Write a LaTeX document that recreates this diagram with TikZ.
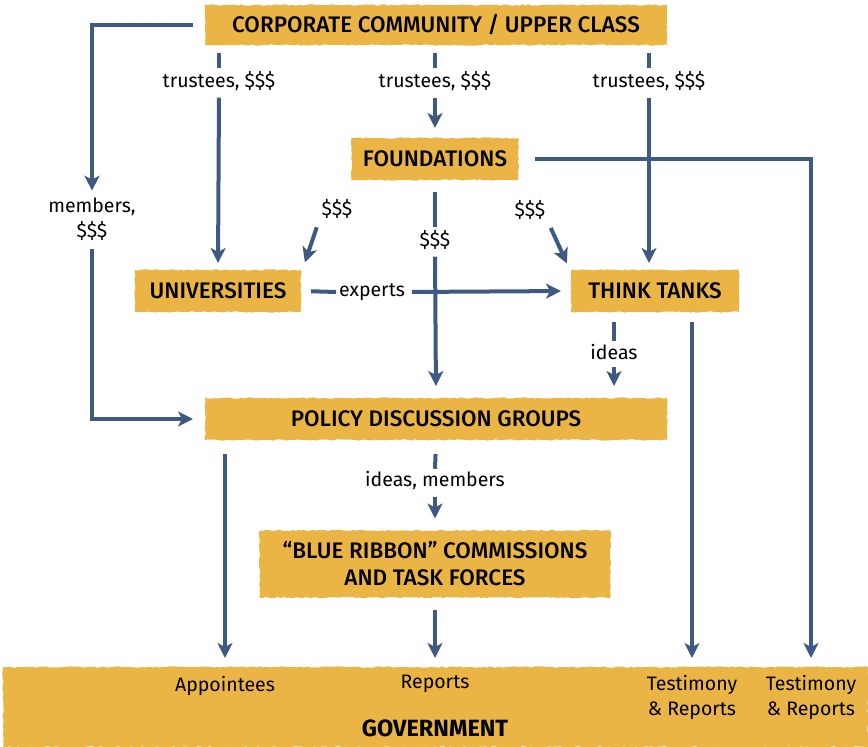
\documentclass[tikz,border=0pt]{standalone}
\usepackage{fontspec}
\setmainfont{Fira Sans}
\newfontfamily\boxfont{Fira Sans Medium}
\usetikzlibrary{arrows.meta,decorations.pathmorphing}
\definecolor{boxgold}{HTML}{EAB544}
\definecolor{linkblue}{HTML}{3F5A82}

\begin{document}
\begin{tikzpicture}[x=1pt, y=-1pt, line width=4pt,
    box/.style = {fill=boxgold, inner sep=0pt, align=center, font=\boxfont\fontsize{22.5}{27}\selectfont,
        decorate, decoration={random steps, segment length=3pt, amplitude=0.7pt}},
    lbl/.style = {inner sep=1pt, align=center, font=\fontsize{19.5}{25}\selectfont},
    seg/.style = {draw=linkblue},
    link/.style = {draw=linkblue, -{Stealth[length=15pt, width=15pt, inset=4pt]}}]
    \useasboundingbox (0,0) rectangle (868,747);
    % boxes
    \node[box, minimum width=462pt, minimum height=40pt] (corp) at (436,25) {CORPORATE COMMUNITY / UPPER CLASS};
    \node[box, minimum width=167pt, minimum height=42pt] (found) at (435,159) {FOUNDATIONS};
    \node[box, minimum width=166pt, minimum height=42pt] (univ) at (218,291) {UNIVERSITIES};
    \node[box, minimum width=168pt, minimum height=42pt] (think) at (655,291) {THINK TANKS};
    \node[box, minimum width=462pt, minimum height=42pt] (pdg) at (436,419) {POLICY DISCUSSION GROUPS};
    \node[box, minimum width=351pt, minimum height=67pt] (blue) at (435,564) {“BLUE RIBBON” COMMISSIONS\\AND TASK FORCES};
    \node[box, minimum width=865pt, minimum height=80pt] (gov) at (435.5,707) {};
    \node[font=\fontsize{23.5}{26}\selectfont\bfseries] (govt) at (435,728) {GOVERNMENT};
    \node[lbl] (appt) at (225,686) {Appointees};
    \node[lbl] (rep) at (435,684) {Reports};
    \node[lbl] (test1) at (692,697) {Testimony\\\& Reports};
    \node[lbl] (test2) at (811,697) {Testimony\\\& Reports};
    % labels
    \node[lbl] (t1) at (219,81) {trustees, \$\$\$};
    \node[lbl] (t2) at (435,81) {trustees, \$\$\$};
    \node[lbl] (t3) at (649,81) {trustees, \$\$\$};
    \node[lbl] (mem) at (92,219) {members,\\\$\$\$};
    \node[lbl] (s0) at (435,240) {\$\$\$};
    \node[lbl] (s1) at (337,209) {\$\$\$};
    \node[lbl] (s2) at (530,210) {\$\$\$};
    \node[lbl] (exp) at (372,292) {experts};
    \node[lbl] (ideas) at (614,352) {ideas};
    \node[lbl] (im) at (435,481) {ideas, members};
    % connectors
    \draw[link, shorten <=10pt, shorten >=4pt] (corp.west) -| (mem.north);
    \draw[link, shorten <=6pt, shorten >=10pt] (mem.south) |- (pdg.west);
    \draw[seg, shorten <=6pt] (corp.south -| t1) -- (t1.north);
    \draw[link, shorten <=4pt, shorten >=5pt] (t1.south) -- (univ.north);
    \draw[seg, shorten <=6pt] (corp.south -| t2) -- (t2.north);
    \draw[link, shorten <=4pt, shorten >=8pt] (t2.south) -- (found.north);
    \draw[seg, shorten <=6pt] (corp.south -| t3) -- (t3.north);
    \draw[link, shorten <=4pt, shorten >=5pt] (t3.south) -- (t3 |- think.north);
    \draw[seg, shorten <=10pt] (found.south) -- (s0.north);
    \draw[link, shorten <=4pt, shorten >=10pt] (s0.south) -- (pdg.north);
    \draw[link, shorten <=14pt, shorten >=7pt] (found.east) -| (test2 |- gov.north);
    \draw[link, shorten <=6pt, shorten >=6pt] (s1.south west) -- (univ.north east);
    \draw[link, shorten <=6pt, shorten >=5pt] (s2.south east) -- (think.north west);
    \draw[seg, shorten <=8pt] (univ.east) -- (exp.west);
    \draw[link, shorten <=4pt, shorten >=8pt] (exp.east) -- (think.west);
    \draw[seg, shorten <=8pt] (think.south -| ideas) -- (ideas.north);
    \draw[link, shorten <=4pt, shorten >=10pt] (ideas.south) -- (ideas |- pdg.north);
    \draw[link, shorten <=8pt, shorten >=7pt] (think.south -| test1) -- (test1 |- gov.north);
    \draw[link, shorten <=12pt, shorten >=7pt] (pdg.south -| appt) -- (appt |- gov.north);
    \draw[seg, shorten <=12pt] (pdg.south) -- (im.north);
    \draw[link, shorten <=4pt, shorten >=10pt] (im.south) -- (blue.north);
    \draw[link, shorten <=10pt, shorten >=7pt] (blue.south) -- (rep |- gov.north);
\end{tikzpicture}
\end{document}
